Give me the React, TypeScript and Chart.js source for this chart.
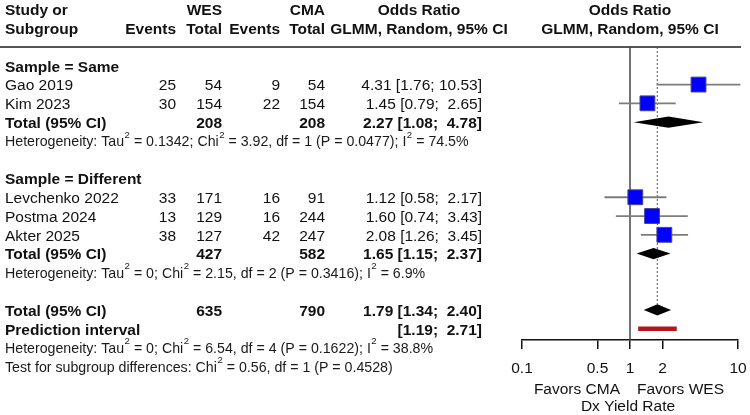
import React, { useEffect, useRef } from 'react';
import { Chart, registerables } from 'chart.js';

Chart.register(...registerables);

const FONT = "'Liberation Sans', Arial, Helvetica, sans-serif";

// ---- study level data ----
const studyNames = ['Gao 2019', 'Kim 2023', 'Levchenko 2022', 'Postma 2024', 'Akter 2025'];
const studyGroup = [0, 0, 1, 1, 1];
const wesEvents = [25, 30, 33, 13, 38];
const wesTotal = [54, 154, 171, 129, 127];
const cmaEvents = [9, 22, 16, 16, 42];
const cmaTotal = [54, 154, 91, 244, 247];
const studyOR = [4.31, 1.45, 1.12, 1.6, 2.08];
const studyLower = [1.76, 0.79, 0.58, 0.74, 1.26];
const studyUpper = [10.53, 2.65, 2.17, 3.43, 3.45];

// ---- subgroup summaries ----
const groupNames = ['Sample = Same', 'Sample = Different'];
const groupWesTotal = [208, 427];
const groupCmaTotal = [208, 582];
const groupOR = [2.27, 1.65];
const groupLower = [1.08, 1.15];
const groupUpper = [4.78, 2.37];
const groupHet = [
  'Heterogeneity: Tau² = 0.1342; Chi² = 3.92, df = 1 (P = 0.0477); I² = 74.5%',
  'Heterogeneity: Tau² = 0; Chi² = 2.15, df = 2 (P = 0.3416); I² = 6.9%',
];

// ---- overall summary ----
const overallTotals = [635, 790];
const overallOR = [1.79, 1.34, 2.4];
const predictionInterval = [1.19, 2.71];
const overallHet = 'Heterogeneity: Tau² = 0; Chi² = 6.54, df = 4 (P = 0.1622); I² = 38.8%';
const subgroupTest = 'Test for subgroup differences: Chi² = 0.56, df = 1 (P = 0.4528)';

// ---- axis ----
const axisTicks = [0.1, 0.5, 1, 2, 10];
const axisMin = 0.1;
const axisMax = 10;
const favorsLabels = ['Favors CMA', 'Favors WES'];
const axisTitle = 'Dx Yield Rate';

// ---- row layout (row index, top to bottom) ----
const studyRow: number[] = [];
const groupHeadRow: number[] = [];
const groupTotalRow: number[] = [];
const groupHetRow: number[] = [];
let rowCursor = 0;
groupNames.forEach((_, g) => {
  groupHeadRow[g] = rowCursor++;
  studyGroup.forEach((sg, i) => {
    if (sg === g) studyRow[i] = rowCursor++;
  });
  groupTotalRow[g] = rowCursor++;
  groupHetRow[g] = rowCursor++;
  rowCursor++;
});
const overallRow = rowCursor;
const piRow = rowCursor + 1;
const overallHetRow = rowCursor + 2;
const testRow = rowCursor + 3;

// ---- table columns (pixels) ----
const COL_STUDY = 5;
const COL_WES_EV = 176;
const COL_WES_TOT = 222;
const COL_CMA_EV = 280;
const COL_CMA_TOT = 325;
const COL_OR = 482;
const COL_OR_HEAD = 419;

const MAIN_SIZE = 15.5;
const SMALL_SIZE = 14.2;
const DIAMOND_HALF = 0.3;
const TEXT_NUDGE = 1.5;

const fmt = (v: number) => v.toFixed(2);
const ciText = (est: number, lo: number, hi: number) =>
  `${fmt(est)} [${fmt(lo)}; ${fmt(hi).padStart(5, ' ')}]`;

function text(
  ctx: CanvasRenderingContext2D,
  s: string,
  x: number,
  y: number,
  align: CanvasTextAlign,
  bold = false,
  size = MAIN_SIZE
) {
  ctx.font = `${bold ? 'bold ' : ''}${size}px ${FONT}`;
  ctx.textAlign = align;
  ctx.textBaseline = 'middle';
  ctx.fillStyle = '#111';
  ctx.fillText(s, x, y + TEXT_NUDGE);
}

// left-aligned text where every "²" is drawn as a raised small 2
function richText(ctx: CanvasRenderingContext2D, s: string, x: number, y: number, size: number) {
  const parts = s.split('²');
  const base = `${size}px ${FONT}`;
  const sup = `${size * 0.68}px ${FONT}`;
  ctx.textAlign = 'left';
  ctx.textBaseline = 'middle';
  ctx.fillStyle = '#1a1a1a';
  let cx = x;
  const yy = y + TEXT_NUDGE;
  parts.forEach((p, i) => {
    ctx.font = base;
    ctx.fillText(p, cx, yy);
    cx += ctx.measureText(p).width;
    if (i < parts.length - 1) {
      ctx.font = sup;
      ctx.fillText('2', cx + 0.5, yy - size * 0.52);
      cx += ctx.measureText('2').width + 0.5;
    }
  });
}

const forestPlugin = {
  id: 'forestLayout',
  beforeDatasetsDraw(chart: any) {
    const { ctx, chartArea } = chart;
    const xs = chart.scales.x;
    const ys = chart.scales.y;
    const top = ys.getPixelForValue(-1);
    ctx.save();
    // header rule
    ctx.strokeStyle = '#555';
    ctx.lineWidth = 2;
    ctx.beginPath();
    ctx.moveTo(0, top);
    ctx.lineTo(741, top);
    ctx.stroke();
    // line of no effect
    const x1 = xs.getPixelForValue(1);
    ctx.strokeStyle = '#444';
    ctx.lineWidth = 1.5;
    ctx.beginPath();
    ctx.moveTo(x1, top);
    ctx.lineTo(x1, chartArea.bottom);
    ctx.stroke();
    // overall estimate reference
    const xo = xs.getPixelForValue(overallOR[0]);
    ctx.setLineDash([2, 2]);
    ctx.lineWidth = 1;
    ctx.strokeStyle = '#555';
    ctx.beginPath();
    ctx.moveTo(xo, top);
    ctx.lineTo(xo, ys.getPixelForValue(overallRow - DIAMOND_HALF));
    ctx.stroke();
    ctx.restore();
  },
  afterDatasetsDraw(chart: any) {
    const { ctx, chartArea } = chart;
    const xs = chart.scales.x;
    const ys = chart.scales.y;
    const Y = (r: number) => ys.getPixelForValue(r);
    ctx.save();

    // summary diamonds
    const diamond = (est: number, lo: number, hi: number, row: number) => {
      ctx.fillStyle = '#000';
      ctx.beginPath();
      ctx.moveTo(xs.getPixelForValue(lo), Y(row));
      ctx.lineTo(xs.getPixelForValue(est), Y(row - DIAMOND_HALF));
      ctx.lineTo(xs.getPixelForValue(hi), Y(row));
      ctx.lineTo(xs.getPixelForValue(est), Y(row + DIAMOND_HALF));
      ctx.closePath();
      ctx.fill();
    };
    groupNames.forEach((_, g) => diamond(groupOR[g], groupLower[g], groupUpper[g], groupTotalRow[g]));
    diamond(overallOR[0], overallOR[1], overallOR[2], overallRow);

    // column headers
    const center = (chartArea.left + chartArea.right) / 2;
    text(ctx, 'Study or', COL_STUDY, Y(-3), 'left', true);
    text(ctx, 'Subgroup', COL_STUDY, Y(-2), 'left', true);
    text(ctx, 'WES', COL_WES_TOT, Y(-3), 'right', true);
    text(ctx, 'CMA', COL_CMA_TOT, Y(-3), 'right', true);
    text(ctx, 'Events', COL_WES_EV, Y(-2), 'right', true);
    text(ctx, 'Total', COL_WES_TOT, Y(-2), 'right', true);
    text(ctx, 'Events', COL_CMA_EV, Y(-2), 'right', true);
    text(ctx, 'Total', COL_CMA_TOT, Y(-2), 'right', true);
    text(ctx, 'Odds Ratio', COL_OR_HEAD, Y(-3), 'center', true);
    text(ctx, 'GLMM, Random, 95% CI', COL_OR_HEAD, Y(-2), 'center', true);
    text(ctx, 'Odds Ratio', center, Y(-3), 'center', true);
    text(ctx, 'GLMM, Random, 95% CI', center, Y(-2), 'center', true);

    // studies
    studyNames.forEach((name, i) => {
      const y = Y(studyRow[i]);
      text(ctx, name, COL_STUDY, y, 'left');
      text(ctx, String(wesEvents[i]), COL_WES_EV, y, 'right');
      text(ctx, String(wesTotal[i]), COL_WES_TOT, y, 'right');
      text(ctx, String(cmaEvents[i]), COL_CMA_EV, y, 'right');
      text(ctx, String(cmaTotal[i]), COL_CMA_TOT, y, 'right');
      text(ctx, ciText(studyOR[i], studyLower[i], studyUpper[i]), COL_OR, y, 'right');
    });

    // subgroups
    groupNames.forEach((name, g) => {
      text(ctx, name, COL_STUDY, Y(groupHeadRow[g]), 'left', true);
      const yt = Y(groupTotalRow[g]);
      text(ctx, 'Total (95% CI)', COL_STUDY, yt, 'left', true);
      text(ctx, String(groupWesTotal[g]), COL_WES_TOT, yt, 'right', true);
      text(ctx, String(groupCmaTotal[g]), COL_CMA_TOT, yt, 'right', true);
      text(ctx, ciText(groupOR[g], groupLower[g], groupUpper[g]), COL_OR, yt, 'right', true);
      richText(ctx, groupHet[g], COL_STUDY, Y(groupHetRow[g]), SMALL_SIZE);
    });

    // overall
    const yo = Y(overallRow);
    text(ctx, 'Total (95% CI)', COL_STUDY, yo, 'left', true);
    text(ctx, String(overallTotals[0]), COL_WES_TOT, yo, 'right', true);
    text(ctx, String(overallTotals[1]), COL_CMA_TOT, yo, 'right', true);
    text(ctx, ciText(overallOR[0], overallOR[1], overallOR[2]), COL_OR, yo, 'right', true);
    const yp = Y(piRow);
    text(ctx, 'Prediction interval', COL_STUDY, yp, 'left', true);
    text(
      ctx,
      `[${fmt(predictionInterval[0])}; ${fmt(predictionInterval[1]).padStart(5, ' ')}]`,
      COL_OR,
      yp,
      'right',
      true
    );
    richText(ctx, overallHet, COL_STUDY, Y(overallHetRow), SMALL_SIZE);
    richText(ctx, subgroupTest, COL_STUDY, Y(testRow), SMALL_SIZE);

    // axis captions
    const x1 = xs.getPixelForValue(1);
    text(ctx, favorsLabels[0], x1 - 10, chartArea.bottom + 48, 'right');
    text(ctx, favorsLabels[1], x1 + 7, chartArea.bottom + 48, 'left');
    text(ctx, axisTitle, x1 - 2, chartArea.bottom + 65, 'center');
    ctx.restore();
  },
};

export default function App() {
  const ref = useRef<HTMLCanvasElement>(null);

  useEffect(() => {
    document.body.style.margin = '0';
    const squares = {
      data: studyOR.map((v, i) => ({ x: v, y: studyRow[i] })),
      pointStyle: 'rect',
      pointRadius: 10.5,
      pointHoverRadius: 10.5,
      backgroundColor: '#0000ff',
      borderColor: '#45458c',
      borderWidth: 1,
      showLine: false,
    };
    const ciLines = studyOR.map((_, i) => ({
      data: [
        { x: studyLower[i], y: studyRow[i] },
        { x: studyUpper[i], y: studyRow[i] },
      ],
      showLine: true,
      borderColor: '#7c7c7c',
      borderWidth: 1.8,
      pointRadius: 0,
      clip: 3,
    }));
    const piBar = {
      data: [
        { x: predictionInterval[0], y: piRow },
        { x: predictionInterval[1], y: piRow },
      ],
      showLine: true,
      borderColor: '#b3161d',
      borderWidth: 4.5,
      borderCapStyle: 'butt',
      pointRadius: 0,
    };

    const chart = new Chart(ref.current as HTMLCanvasElement, {
      type: 'scatter',
      data: { datasets: [squares, ...ciLines, piBar] as any },
      options: {
        animation: false,
        responsive: false,
        devicePixelRatio: 1,
        events: [],
        layout: { padding: { left: 522, right: 12, top: 47, bottom: 0 } },
        plugins: { legend: { display: false }, tooltip: { enabled: false } },
        scales: {
          x: {
            type: 'logarithmic',
            position: 'bottom',
            min: axisMin,
            max: axisMax,
            afterBuildTicks: (axis: any) => {
              axis.ticks = axisTicks.map((v) => ({ value: v }));
            },
            afterFit: (axis: any) => {
              axis.height = 75;
              axis.paddingLeft = 0;
              axis.paddingRight = 0;
            },
            ticks: {
              autoSkip: false,
              maxRotation: 0,
              padding: 10,
              color: '#111',
              font: { family: FONT, size: MAIN_SIZE },
              callback: (v: any) => String(v),
            },
            grid: { drawOnChartArea: false, drawTicks: true, tickLength: 9, color: '#111', lineWidth: 1.5 },
            border: { display: true, color: '#111', width: 1.5 },
          },
          y: {
            type: 'linear',
            display: false,
            reverse: true,
            min: -1,
            max: 14.6,
          },
        },
      } as any,
      plugins: [forestPlugin],
    });
    return () => chart.destroy();
  }, []);

  return (
    <div style={{ width: 750, height: 415, background: '#fff' }}>
      <canvas ref={ref} width={750} height={415} style={{ display: 'block' }} />
    </div>
  );
}
